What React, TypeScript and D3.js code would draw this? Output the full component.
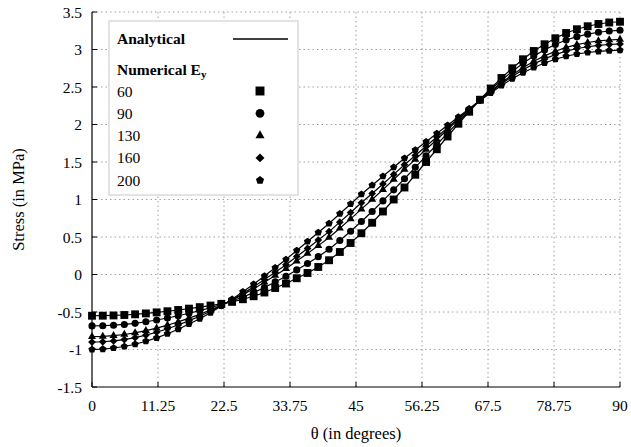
import React from 'react';
import * as d3 from 'd3';

const THETA = [0, 1.837, 3.673, 5.51, 7.347, 9.184, 11.02, 12.857, 14.694, 16.531, 18.367, 20.204, 22.041, 23.878, 25.714, 27.551, 29.388, 31.224, 33.061, 34.898, 36.735, 38.571, 40.408, 42.245, 44.082, 45.918, 47.755, 49.592, 51.429, 53.265, 55.102, 56.939, 58.776, 60.612, 62.449, 64.286, 66.122, 67.959, 69.796, 71.633, 73.469, 75.306, 77.143, 78.98, 80.816, 82.653, 84.49, 86.327, 88.163, 90];

const S60 = [-0.55, -0.549, -0.546, -0.54, -0.531, -0.519, -0.505, -0.49, -0.473, -0.455, -0.435, -0.414, -0.391, -0.365, -0.33, -0.29, -0.24, -0.18, -0.12, -0.05, 0.02, 0.1, 0.19, 0.3, 0.42, 0.55, 0.69, 0.84, 1.0, 1.16, 1.33, 1.5, 1.67, 1.84, 2.01, 2.17, 2.33, 2.48, 2.62, 2.75, 2.87, 2.98, 3.07, 3.15, 3.22, 3.27, 3.31, 3.34, 3.36, 3.37];

const S90 = [-0.685, -0.683, -0.676, -0.666, -0.651, -0.63, -0.607, -0.58, -0.55, -0.517, -0.482, -0.443, -0.4, -0.354, -0.3, -0.242, -0.174, -0.099, -0.024, 0.061, 0.146, 0.238, 0.337, 0.453, 0.576, 0.706, 0.84, 0.981, 1.129, 1.277, 1.429, 1.581, 1.733, 1.885, 2.037, 2.182, 2.327, 2.462, 2.59, 2.708, 2.816, 2.914, 2.995, 3.066, 3.127, 3.171, 3.205, 3.23, 3.247, 3.256];

const S130 = [-0.829, -0.826, -0.815, -0.8, -0.778, -0.749, -0.716, -0.676, -0.632, -0.582, -0.531, -0.474, -0.409, -0.343, -0.268, -0.191, -0.104, -0.013, 0.078, 0.179, 0.28, 0.385, 0.494, 0.616, 0.742, 0.872, 1.0, 1.131, 1.267, 1.402, 1.535, 1.667, 1.8, 1.933, 2.066, 2.195, 2.324, 2.443, 2.558, 2.663, 2.758, 2.844, 2.915, 2.976, 3.028, 3.065, 3.093, 3.114, 3.127, 3.134];

const S160 = [-0.901, -0.897, -0.885, -0.868, -0.842, -0.808, -0.77, -0.724, -0.673, -0.615, -0.556, -0.489, -0.414, -0.338, -0.252, -0.165, -0.068, 0.031, 0.13, 0.239, 0.348, 0.459, 0.572, 0.698, 0.826, 0.956, 1.08, 1.207, 1.335, 1.464, 1.587, 1.711, 1.834, 1.957, 2.08, 2.201, 2.322, 2.433, 2.542, 2.641, 2.73, 2.808, 2.875, 2.932, 2.978, 3.013, 3.037, 3.055, 3.067, 3.074];

const S200 = [-1.0, -0.995, -0.98, -0.96, -0.93, -0.89, -0.845, -0.79, -0.73, -0.66, -0.59, -0.51, -0.42, -0.33, -0.23, -0.13, -0.02, 0.09, 0.2, 0.32, 0.44, 0.56, 0.68, 0.81, 0.94, 1.07, 1.19, 1.31, 1.43, 1.55, 1.66, 1.77, 1.88, 1.99, 2.1, 2.21, 2.32, 2.42, 2.52, 2.61, 2.69, 2.76, 2.82, 2.87, 2.91, 2.94, 2.96, 2.975, 2.985, 2.99];

const SERIES_LABELS = ['60', '90', '130', '160', '200'];
const SERIES_VALUES = [S60, S90, S130, S160, S200];

const X_TICKS = [0, 11.25, 22.5, 33.75, 45, 56.25, 67.5, 78.75, 90];
const X_TICK_LABELS = ['0', '11.25', '22.5', '33.75', '45', '56.25', '67.5', '78.75', '90'];
const Y_TICKS = [-1.5, -1, -0.5, 0, 0.5, 1, 1.5, 2, 2.5, 3, 3.5];
const Y_TICK_LABELS = ['-1.5', '-1', '-0.5', '0', '0.5', '1', '1.5', '2', '2.5', '3', '3.5'];

const pentagon = {
  draw(ctx: any, size: number) {
    const r = Math.sqrt(size) * 0.66;
    for (let i = 0; i < 5; i++) {
      const a = -Math.PI / 2 + (i * 2 * Math.PI) / 5;
      const px = r * Math.cos(a);
      const py = r * Math.sin(a);
      if (i === 0) ctx.moveTo(px, py);
      else ctx.lineTo(px, py);
    }
    ctx.closePath();
  },
};

const diamond = {
  draw(ctx: any, size: number) {
    const r = Math.sqrt(size / 2);
    ctx.moveTo(0, -r);
    ctx.lineTo(r, 0);
    ctx.lineTo(0, r);
    ctx.lineTo(-r, 0);
    ctx.closePath();
  },
};

const SYMBOLS: any[] = [
  { type: d3.symbolSquare, size: 62 },
  { type: d3.symbolCircle, size: 40 },
  { type: d3.symbolTriangle, size: 28 },
  { type: diamond, size: 30 },
  { type: pentagon, size: 34 },
];
const LEGEND_SYMBOLS: any[] = [
  { type: d3.symbolSquare, size: 80 },
  { type: d3.symbolCircle, size: 60 },
  { type: d3.symbolTriangle, size: 36 },
  { type: diamond, size: 40 },
  { type: pentagon, size: 42 },
];

export default function App() {
  const W = 631;
  const H = 447;
  const x = d3.scaleLinear().domain([0, 90]).range([92, 620]);
  const y = d3.scaleLinear().domain([-1.5, 3.5]).range([387, 12]);
  const line = d3
    .line<number>()
    .x((_, i) => x(THETA[i]))
    .y((d) => y(d))
    .curve(d3.curveLinear);
  const font = "'Liberation Serif', 'Times New Roman', serif";

  return (
    <svg
      width={W}
      height={H}
      style={{ position: 'absolute', left: 0, top: 0, background: '#fff' }}
      fontFamily={font}
    >
      <rect x={0} y={0} width={W} height={H} fill="#fff" />
      {/* grid */}
      {X_TICKS.map((t, i) =>
        i === 0 ? null : (
          <line
            key={'gx' + i}
            x1={x(t)}
            x2={x(t)}
            y1={y(-1.5)}
            y2={y(3.5)}
            stroke="#a0a0a0"
            strokeWidth={1}
            strokeDasharray="1.5,3"
          />
        )
      )}
      {Y_TICKS.map((t, i) =>
        i === 0 ? null : (
          <line
            key={'gy' + i}
            x1={x(0)}
            x2={x(90)}
            y1={y(t)}
            y2={y(t)}
            stroke="#a0a0a0"
            strokeWidth={1}
            strokeDasharray="1.5,3"
          />
        )
      )}
      {/* axes */}
      <line x1={x(0)} x2={x(0)} y1={y(-1.5)} y2={y(3.5)} stroke="#000" strokeWidth={1.2} />
      <line x1={x(0)} x2={x(90)} y1={y(-1.5)} y2={y(-1.5)} stroke="#000" strokeWidth={1.2} />
      {X_TICKS.map((t, i) => (
        <g key={'xt' + i}>
          <line x1={x(t)} x2={x(t)} y1={y(-1.5)} y2={y(-1.5) - 5} stroke="#000" strokeWidth={1} />
          <text x={x(t)} y={y(-1.5) + 24} textAnchor="middle" fontSize={15.5} fill="#000">
            {X_TICK_LABELS[i]}
          </text>
        </g>
      ))}
      {Y_TICKS.map((t, i) => (
        <g key={'yt' + i}>
          <line x1={x(0)} x2={x(0) + 5} y1={y(t)} y2={y(t)} stroke="#000" strokeWidth={1} />
          <text x={x(0) - 10} y={y(t) + 5.5} textAnchor="end" fontSize={15.5} fill="#000">
            {Y_TICK_LABELS[i]}
          </text>
        </g>
      ))}
      <text x={(x(0) + x(90)) / 2} y={439} textAnchor="middle" fontSize={16.5} fill="#000">
        θ (in degrees)
      </text>
      <text
        transform={`translate(24, ${(y(-1.5) + y(3.5)) / 2}) rotate(-90)`}
        textAnchor="middle"
        fontSize={16.5}
        fill="#000"
      >
        Stress (in MPa)
      </text>
      {/* series */}
      {SERIES_VALUES.map((vals, si) => (
        <g key={'s' + si}>
          <path d={line(vals) || ''} fill="none" stroke="#000" strokeWidth={1.2} />
          {vals.map((v, i) => (
            <path
              key={i}
              transform={`translate(${x(THETA[i])},${y(v)})`}
              d={d3.symbol().type(SYMBOLS[si].type).size(SYMBOLS[si].size)() || ''}
              fill="#000"
            />
          ))}
        </g>
      ))}
      {/* legend */}
      <rect x={109} y={21} width={189} height={174} fill="#fff" stroke="#c8c8c8" strokeWidth={1} />
      <text x={117} y={44} fontSize={15.5} fontWeight="bold" fill="#000">
        Analytical
      </text>
      <line x1={233} x2={288} y1={39} y2={39} stroke="#000" strokeWidth={1.5} />
      <text x={117} y={75} fontSize={15.5} fontWeight="bold" fill="#000">
        Numerical E
        <tspan fontSize={11} dy={3}>y</tspan>
      </text>
      {SERIES_LABELS.map((lab, i) => {
        const yy = 91 + i * 22.3;
        return (
          <g key={'lg' + i}>
            <text x={117} y={yy + 5.5} fontSize={15.5} fill="#000">
              {lab}
            </text>
            <path
              transform={`translate(260,${yy})`}
              d={d3.symbol().type(LEGEND_SYMBOLS[i].type).size(LEGEND_SYMBOLS[i].size)() || ''}
              fill="#000"
            />
          </g>
        );
      })}
    </svg>
  );
}
